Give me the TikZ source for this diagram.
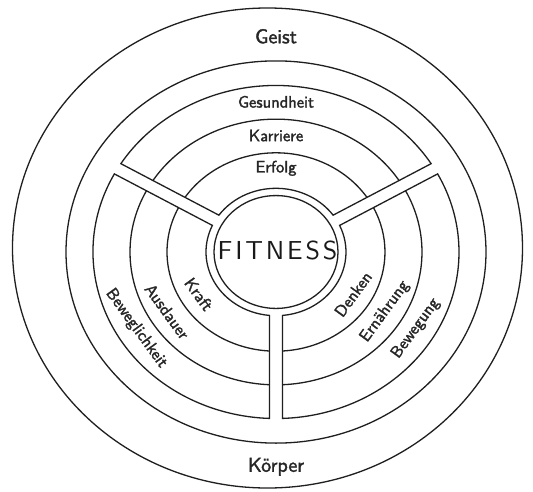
\documentclass[tikz,border=0pt]{standalone}
\usepackage{fontspec}
\newfontfamily\lblfont{lmsans10-regular.otf}[FakeBold=1.8]
\newfontfamily\fitfont{lmsans10-regular.otf}[LetterSpace=11]
\begin{document}
\begin{tikzpicture}[x=1pt,y=1pt,
  ring/.style={draw=black!88, line width=1.3pt, line join=miter},
  lbl/.style={font=\lblfont\fontsize{16.5}{18}\selectfont, inner sep=0pt, text=black!85},
  big/.style={font=\lblfont\fontsize{20}{22}\selectfont, inner sep=0pt, text=black!85},
  fitlbl/.style={font=\fitfont\fontsize{26}{28}\selectfont, inner sep=0pt, text=black!90}]
\fill[white] (-276,-239) rectangle (257,252);
\useasboundingbox (-276,-239) rectangle (257,252);
\clip (-276,-239) rectangle (257,252);
\draw[ring] (-8.5,4) ellipse[x radius=255, y radius=240];
\begin{scope}[yscale=0.91]
  \def\hw{6.5}
  \def\Ra{62}\def\Rb{70}\def\Rc{109}\def\Rd{146}\def\Re{183}\def\Rf{210}
  \draw[ring] (0,0) circle[radius=\Rf];
  \draw[ring] (0,0) circle[radius=\Ra];
  \foreach \s in {30,150,270}{
    \pgfmathsetmacro\pA{\s+asin(\hw/\Rb)}
    \pgfmathsetmacro\pB{\s+120-asin(\hw/\Rb)}
    \pgfmathsetmacro\qA{\s+asin(\hw/\Re)}
    \pgfmathsetmacro\qB{\s+120-asin(\hw/\Re)}
    \pgfmathsetmacro\cA{\s+asin(\hw/\Rc)}
    \pgfmathsetmacro\cB{\s+120-asin(\hw/\Rc)}
    \pgfmathsetmacro\dA{\s+asin(\hw/\Rd)}
    \pgfmathsetmacro\dB{\s+120-asin(\hw/\Rd)}
    \draw[ring] (\pA:\Rb) -- (\qA:\Re) arc[start angle=\qA, end angle=\qB, radius=\Re]
      -- (\pB:\Rb) arc[start angle=\pB, end angle=\pA, radius=\Rb] -- cycle;
    \draw[ring] (\cA:\Rc) arc[start angle=\cA, end angle=\cB, radius=\Rc];
    \draw[ring] (\dA:\Rd) arc[start angle=\dA, end angle=\dB, radius=\Rd];
  }
  \node[big] (geist) at (90:237) {Geist};
  \node[big] (koerper) at (270:236) {Körper};
  \node[lbl] (gesund) at (90:165) {Gesundheit};
  \node[lbl] (karriere) at (90:128) {Karriere};
  \node[lbl] (erfolg) at (90:92) {Erfolg};
  \node[lbl, rotate=-54] (kraft) at (211:90) {Kraft};
  \node[lbl, rotate=-54] (ausdauer) at (211:127) {Ausdauer};
  \node[lbl, rotate=-54] (bewegl) at (211:163) {Beweglichkeit};
  \node[lbl, rotate=54] (denken) at (329:90) {Denken};
  \node[lbl, rotate=54] (ernaehrung) at (329:127) {Ernährung};
  \node[lbl, rotate=54] (bewegung) at (329:163) {Bewegung};
  \node[fitlbl] (fitness) at (1.5,2) {FITNESS};
\end{scope}
\end{tikzpicture}
\end{document}
